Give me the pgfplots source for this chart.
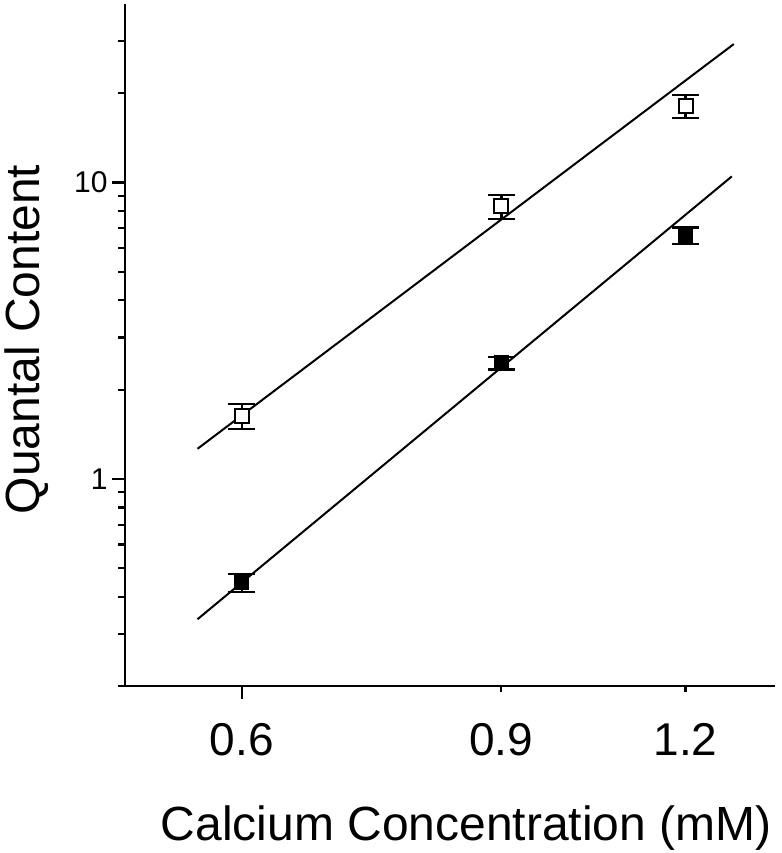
\documentclass[border=0pt]{standalone}
\usepackage{pgfplots}
\pgfplotsset{compat=1.18}
\usepackage{fontspec}
\setmainfont{Liberation Sans}
\begin{document}
\begin{tikzpicture}
\begin{axis}[
  at={(0pt,0pt)}, anchor=south west,
  scale only axis, width=650pt, height=682pt,
  xmode=log, ymode=log,
  xmin=0.5, xmax=1.38, ymin=0.2, ymax=40,
  axis x line*=bottom, axis y line*=left,
  axis line style={line width=2.6pt},
  tick align=outside,
  every tick/.style={black, line width=2.2pt},
  major tick length=6pt, minor tick length=7pt,
  xtick={0.9,1.2}, xticklabels={0.9,1.2},
  extra x ticks={0.6}, extra x tick labels={0.6},
  extra x tick style={major tick length=13pt, xticklabel style={yshift=7pt}},
  minor xtick={},
  ytick={1,10}, yticklabels={1,10},
  extra y ticks={1,10}, extra y tick labels={},
  extra y tick style={major tick length=13pt},
  minor ytick={0.2,0.3,0.4,0.5,0.6,0.7,0.8,0.9,2,3,4,5,6,7,8,9,20,30},
  xticklabel style={font=\fontsize{46}{50}\selectfont, yshift=-28pt},
  yticklabel style={font=\fontsize{30}{32}\selectfont, xshift=-8pt},
  clip=false,
]
\addplot[black, line width=2pt, forget plot] coordinates {(0.56,1.263) (1.294,29.3)};
\addplot[black, line width=2pt, forget plot] coordinates {(0.56,0.336) (1.29,10.48)};
\addplot[only marks, mark=square*, mark size=7pt, mark options={fill=white, draw=black, line width=2pt},
  error bars/.cd, y dir=both, y explicit,
  error bar style={line width=2.4pt, black},
  error mark options={rotate=90, mark size=13.5pt, line width=2.4pt}]
  coordinates {(0.6,1.63) +- (0,0.16) (0.9,8.3) +- (0,0.77) (1.2,18.1) +- (0,1.6)};
\addplot[only marks, mark=square*, mark size=7pt, mark options={fill=black, draw=black, line width=1pt},
  error bars/.cd, y dir=both, y explicit,
  error bar style={line width=2.4pt, black},
  error mark options={rotate=90, mark size=13.5pt, line width=2.4pt}]
  coordinates {(0.6,0.446) +- (0,0.031) (0.9,2.46) +- (0,0.12) (1.2,6.62) +- (0,0.42)};
\node[font=\fontsize{48}{52}\selectfont, anchor=base] at (rel axis cs:0.525,-0.2258) {Calcium Concentration (mM)};
\node[font=\fontsize{48}{52}\selectfont, rotate=90, inner sep=0pt] at (rel axis cs:-0.151,0.508) {Quantal Content};
\end{axis}
\pgfresetboundingbox
\path (-125pt,-167pt) rectangle (656pt,686pt);
\end{tikzpicture}
\end{document}
